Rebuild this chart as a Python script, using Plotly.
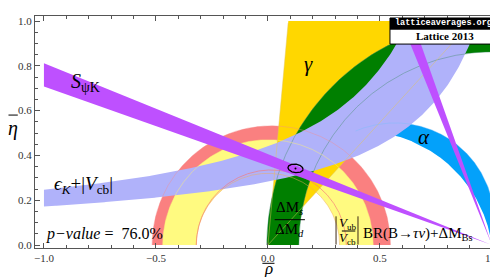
import numpy as np
import plotly.graph_objects as go

# ---------------- data ----------------
domain_rho = [-1.0, 1.0]          # plotted region of the (rho, eta) plane
domain_eta = [0.0, 1.0]

s_psik = [0.629, 0.697]           # sin(2 beta) band
gamma_deg = [47.6, 84.8]          # gamma wedge from the origin
vub_center = [0.0, 0.0]           # |Vub/Vcb| annulus
vub_radius = [0.32, 0.47]
btau_center = [0.015, 0.0]        # BR(B->tau nu)+dM_Bs annulus
btau_radius = [0.335, 0.532]
dms_center = [1.0, 0.0]           # dMs/dMd annulus
dms_radius = [0.862, 1.005]
alpha_outer = [0.567, 0.100, 0.445]   # cx, cy, r
alpha_inner = [0.413, -0.084, 0.593]
epsk_upper = [1.08, 0.4345, 0.0381]   # eta = b + k/(a - rho): a, k, b
epsk_lower = [1.27, 0.3196, 0.0312]
fit_center = [0.123, 0.342]
fit_semi = [0.034, 0.019]
fit_tilt_deg = -8.0
p_value = 76.0
legend_lines = ["latticeaverages.org", "Lattice 2013"]

x_ticks = [-1.0, -0.5, 0.0, 0.5, 1.0]
y_ticks = [0.0, 0.2, 0.4, 0.6, 0.8, 1.0]

# colours
C_PURPLE = "rgb(190,80,255)"
C_LAV = "rgb(176,178,250)"
C_GREEN = "rgb(0,127,0)"
C_GOLD = "rgb(255,215,0)"
C_YEL = "rgb(255,250,128)"
C_RED = "rgb(250,128,128)"
C_BLUE = "rgb(3,161,250)"
SERIF = "Liberation Serif, DejaVu Serif, serif"

R0, R1 = domain_rho
E0, E1 = domain_eta


# ---------------- geometry helpers ----------------
def clip_poly(xs, ys):
    pts = list(zip(xs, ys))

    def clip(pts, inside, inter):
        out = []
        if not pts:
            return out
        prev = pts[-1]
        for cur in pts:
            if inside(cur):
                if not inside(prev):
                    out.append(inter(prev, cur))
                out.append(cur)
            elif inside(prev):
                out.append(inter(prev, cur))
            prev = cur
        return out

    def ix(p, q, x):
        t = (x - p[0]) / (q[0] - p[0])
        return (x, p[1] + t * (q[1] - p[1]))

    def iy(p, q, y):
        t = (y - p[1]) / (q[1] - p[1])
        return (p[0] + t * (q[0] - p[0]), y)

    pts = clip(pts, lambda p: p[0] >= R0, lambda p, q: ix(p, q, R0))
    pts = clip(pts, lambda p: p[0] <= R1, lambda p, q: ix(p, q, R1))
    pts = clip(pts, lambda p: p[1] >= E0, lambda p, q: iy(p, q, E0))
    pts = clip(pts, lambda p: p[1] <= E1, lambda p, q: iy(p, q, E1))
    return [p[0] for p in pts], [p[1] for p in pts]


def annulus(c, r, n=400):
    t = np.linspace(0, np.pi, n)
    xs = np.concatenate([c[0] + r[1] * np.cos(t), c[0] + r[0] * np.cos(t[::-1])])
    ys = np.concatenate([c[1] + r[1] * np.sin(t), c[1] + r[0] * np.sin(t[::-1])])
    return clip_poly(xs, ys)


def wedge(apex, ang_deg):
    a0, a1 = np.radians(ang_deg)
    xs = [apex[0], apex[0] + 4 * np.cos(a0), apex[0] + 4 * np.cos(a1)]
    ys = [apex[1], apex[1] + 4 * np.sin(a0), apex[1] + 4 * np.sin(a1)]
    return clip_poly(xs, ys)


def hyper(p, rho):
    return p[2] + p[1] / (p[0] - rho)


def epsk_band():
    eu = np.linspace(R0, epsk_upper[0] - epsk_upper[1] / (1.4 - epsk_upper[2]), 400)
    el = np.linspace(R0, epsk_lower[0] - epsk_lower[1] / (1.4 - epsk_lower[2]), 400)
    xs = np.concatenate([eu, el[::-1]])
    ys = np.concatenate([hyper(epsk_upper, eu), hyper(epsk_lower, el[::-1])])
    return clip_poly(xs, ys)


TT = np.linspace(0, 2 * np.pi, 4000, endpoint=False)


def arc_seg(c, other, keep_outside):
    x = c[0] + c[2] * np.cos(TT)
    y = c[1] + c[2] * np.sin(TT)
    d = (x - other[0]) ** 2 + (y - other[1]) ** 2
    m = d >= other[2] ** 2 if keep_outside else d <= other[2] ** 2
    s = int(np.argmax(m & ~np.roll(m, 1)))
    x, y, m = np.roll(x, -s), np.roll(y, -s), np.roll(m, -s)
    return x[m], y[m]


def lune(co, ci):
    ox, oy = arc_seg(co, ci, True)
    ix_, iy_ = arc_seg(ci, co, False)
    if (ix_[0] - ox[-1]) ** 2 + (iy_[0] - oy[-1]) ** 2 > (ix_[-1] - ox[-1]) ** 2 + (iy_[-1] - oy[-1]) ** 2:
        ix_, iy_ = ix_[::-1], iy_[::-1]
    return clip_poly(np.concatenate([ox, ix_]), np.concatenate([oy, iy_]))


def masked(xs, ys):
    xs = np.array(xs, float)
    ys = np.array(ys, float)
    bad = (xs < R0) | (xs > R1) | (ys < E0) | (ys > E1)
    xs[bad] = np.nan
    ys[bad] = np.nan
    return xs, ys


def fill(xy, color):
    return go.Scatter(x=xy[0], y=xy[1], mode="lines", fill="toself", fillcolor=color,
                      line=dict(width=0, color=color), hoverinfo="skip", showlegend=False)


def outline(xy, color, width=0.8):
    xs, ys = masked(*xy)
    return go.Scatter(x=xs, y=ys, mode="lines", line=dict(width=width, color=color),
                      hoverinfo="skip", showlegend=False, connectgaps=False)


def circle_line(c, r, n=600):
    t = np.linspace(0, np.pi, n)
    return c[0] + r * np.cos(t), c[1] + r * np.sin(t)


beta = 0.5 * np.degrees(np.arcsin(s_psik))
shallow = [180 - beta[0], 180 - beta[1]]
steep = [90 + beta[0], 90 + beta[1]]

fig = go.Figure()
# fills, bottom to top
fig.add_trace(fill(annulus(btau_center, btau_radius), C_RED))
fig.add_trace(fill(annulus(vub_center, vub_radius), C_YEL))
fig.add_trace(fill(wedge([0.0, 0.0], gamma_deg), C_GOLD))
fig.add_trace(fill(annulus(dms_center, dms_radius), C_GREEN))
fig.add_trace(fill(lune(alpha_outer, alpha_inner), C_BLUE))
fig.add_trace(fill(epsk_band(), C_LAV))

# faint region boundaries
for r in dms_radius:
    fig.add_trace(outline(circle_line(dms_center, r), "rgba(70,140,110,0.55)"))
fig.add_trace(outline(circle_line(btau_center, btau_radius[0]), "rgba(245,120,120,0.8)"))
fig.add_trace(outline(circle_line(btau_center, btau_radius[1]), "rgba(245,140,140,0.5)"))
fig.add_trace(outline(circle_line(vub_center, vub_radius[1]), "rgba(250,240,120,0.6)"))
fig.add_trace(outline(circle_line(vub_center, vub_radius[0]), "rgba(240,170,90,0.6)"))
for g in gamma_deg:
    gx = np.linspace(0, 1, 200) * np.cos(np.radians(g)) * 2
    gy = np.linspace(0, 1, 200) * np.sin(np.radians(g)) * 2
    fig.add_trace(outline((gx, gy), "rgba(225,195,90,0.6)"))
fig.add_trace(outline(arc_seg(alpha_outer, alpha_inner, True), "rgba(120,190,250,0.5)"))

fig.add_trace(fill(wedge([1.0, 0.0], shallow), C_PURPLE))
fig.add_trace(fill(wedge([1.0, 0.0], steep), C_PURPLE))

# fit ellipse
tt = np.linspace(0, 2 * np.pi, 400)
th = np.radians(fit_tilt_deg)
ex = fit_semi[0] * np.cos(tt)
ey = fit_semi[1] * np.sin(tt)
fig.add_trace(go.Scatter(x=fit_center[0] + ex * np.cos(th) - ey * np.sin(th),
                         y=fit_center[1] + ex * np.sin(th) + ey * np.cos(th),
                         mode="lines", line=dict(color="black", width=1.3),
                         hoverinfo="skip", showlegend=False))
fig.add_trace(go.Scatter(x=[fit_center[0]], y=[fit_center[1]], mode="markers",
                         marker=dict(color="black", size=2), hoverinfo="skip", showlegend=False))


def note(x, y, text, size, xanchor="center", yanchor="middle", ref="data", color="black", family=SERIF):
    fig.add_annotation(x=x, y=y, xref="x" if ref == "data" else "paper", yref="y" if ref == "data" else "paper",
                       text=text, showarrow=False, xanchor=xanchor, yanchor=yanchor,
                       font=dict(family=family, size=size, color=color))


note(-0.89, 0.725, "<i>S</i><sub>ψK</sub>", 20, xanchor="left")
note(0.183, 0.81, "<i>γ</i>", 21)
note(0.696, 0.48, "<i>α</i>", 21)
note(-0.962, 0.27, "<i>ϵ</i><sub><i>K</i></sub>+|<i>V</i><sub>cb</sub>|", 19, xanchor="left")
note(-1.0, 0.05, "<i>p−value</i> =  %.1f%%" % p_value, 16, xanchor="left")
note(0.097, 0.163, "ΔM<sub><i>s</i></sub>", 15)
note(0.097, 0.068, "ΔM<sub><i>d</i></sub>", 15)
note(0.357, 0.096, "<i>V</i><sub>ub</sub>", 13)
note(0.357, 0.027, "<i>V</i><sub>cb</sub>", 13)
note(0.415, 0.05, "BR(B→<i>τν</i>)+ΔM<sub>Bs</sub>", 15, xanchor="left")

shapes = [
    dict(type="line", xref="x", yref="y", x0=0.03, x1=0.165, y0=0.113, y1=0.113, line=dict(color="black", width=1)),
    dict(type="line", xref="x", yref="y", x0=0.33, x1=0.39, y0=0.0625, y1=0.0625, line=dict(color="black", width=1)),
    dict(type="line", xref="x", yref="y", x0=0.304, x1=0.304, y0=0.002, y1=0.128, line=dict(color="rgb(60,40,20)", width=1)),
    dict(type="line", xref="x", yref="y", x0=0.402, x1=0.402, y0=0.002, y1=0.128, line=dict(color="rgb(60,40,20)", width=1)),
    # legend box
    dict(type="rect", xref="paper", yref="paper", x0=0.7634, x1=1.0, y0=0.879, y1=0.944,
         fillcolor="white", line=dict(color="black", width=1)),
    dict(type="rect", xref="paper", yref="paper", x0=0.7634, x1=1.0, y0=0.944, y1=0.9914,
         fillcolor="black", line=dict(color="black", width=1)),
    # overbars of the axis titles
    dict(type="line", xref="paper", yref="paper", x0=0.489, x1=0.515, y0=-0.066, y1=-0.066,
         line=dict(color="black", width=1)),
    dict(type="line", xref="paper", yref="paper", x0=-0.057, x1=-0.037, y0=0.573, y1=0.573,
         line=dict(color="black", width=1)),
]
note(0.878, 0.968, "<b>%s</b>" % legend_lines[0], 8.5, ref="paper", color="white",
     family="Liberation Mono, DejaVu Sans Mono, monospace")
note(0.8817, 0.912, "<b>%s</b>" % legend_lines[1], 11, ref="paper")

# axis titles
note(0.503, -0.088, "<i>ρ</i>", 17, ref="paper")
note(-0.047, 0.515, "<i>η</i>", 20, ref="paper")

axis_common = dict(showline=True, linecolor="#555", linewidth=1.3, mirror="allticks",
                   ticks="inside", ticklen=5, tickcolor="#555", tickwidth=1,
                   showgrid=False, zeroline=False,
                   tickfont=dict(family=SERIF, size=11, color="#333"))
fig.update_layout(
    width=498, height=277,
    margin=dict(l=27, r=6, t=8, b=37),
    paper_bgcolor="white", plot_bgcolor="white",
    shapes=shapes,
    xaxis=dict(range=[-1.04, 1.036], tickvals=x_ticks,
               ticktext=[("%.1f" % v).replace("-", "−") for v in x_ticks],
               minor=dict(ticks="inside", dtick=0.1, ticklen=3, tickcolor="#555"), **axis_common),
    yaxis=dict(range=[-0.0134, 1.0223], tickvals=y_ticks, ticktext=["%.1f" % v for v in y_ticks],
               minor=dict(ticks="inside", dtick=0.05, ticklen=3, tickcolor="#555"), **axis_common),
)
fig.write_html("out.html")
